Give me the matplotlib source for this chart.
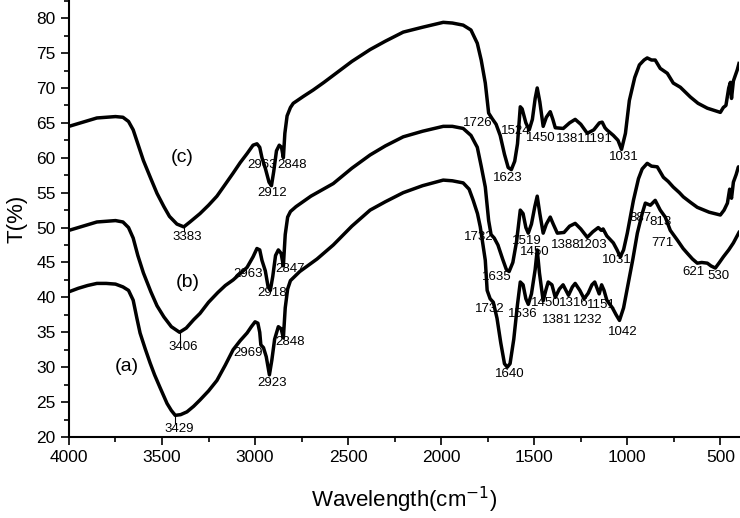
import matplotlib
matplotlib.use("Agg")
import matplotlib.pyplot as plt
from matplotlib.ticker import MultipleLocator

plt.rcParams['font.family'] = ['Liberation Sans', 'DejaVu Sans']

# spectrum (c) - top
wn_c = [4000, 3950, 3900, 3850, 3800, 3750, 3710, 3680, 3655, 3630, 3600, 3560, 3527, 3490,
        3460, 3420, 3383, 3350, 3296, 3250, 3205, 3160, 3118, 3080, 3043, 3011, 2990, 2975,
        2963, 2945, 2925, 2912, 2900, 2885, 2870, 2858, 2848, 2840, 2828, 2810, 2795, 2740,
        2688, 2630, 2580, 2480, 2382, 2300, 2204, 2100, 1989, 1940, 1882, 1840, 1806, 1785,
        1763, 1745, 1726, 1705, 1683, 1660, 1640, 1623, 1605, 1590, 1575, 1565, 1545, 1527,
        1510, 1495, 1484, 1470, 1452, 1435, 1414, 1400, 1387, 1344, 1310, 1280, 1250, 1215,
        1180, 1150, 1135, 1120, 1110, 1075, 1050, 1031, 1010, 989, 960, 935, 910, 893, 870,
        850, 823, 785, 753, 715, 661, 620, 570, 500, 484, 470, 455, 446, 440, 430, 409, 400]
t_c = [64.5, 64.9, 65.3, 65.7, 65.8, 65.9, 65.8, 65.2, 64.0, 62.0, 59.6, 57.0, 54.9, 53.0,
       51.6, 50.5, 50.1, 50.8, 52.0, 53.2, 54.5, 56.2, 57.8, 59.3, 60.6, 61.8, 62.0, 61.5,
       60.0, 58.5, 56.5, 56.0, 58.0, 61.0, 61.8, 61.5, 60.0, 63.5, 66.0, 67.2, 67.8, 68.8,
       69.7, 70.8, 71.8, 73.8, 75.5, 76.7, 78.0, 78.7, 79.4, 79.3, 79.0, 78.3, 76.4, 74.0,
       70.7, 66.4, 65.6, 64.8, 63.2, 60.5, 58.6, 58.3, 59.5, 62.0, 67.3, 67.0, 65.0, 64.0,
       65.5, 68.5, 70.0, 68.0, 64.5, 65.8, 66.6, 65.5, 64.3, 64.2, 65.0, 65.5, 64.8, 63.5,
       64.0, 65.0, 65.1, 64.3, 64.0, 63.2, 62.5, 61.2, 63.5, 68.2, 71.5, 73.3, 74.0, 74.3, 74.0,
       74.0, 72.8, 72.1, 70.7, 70.1, 68.7, 67.8, 67.1, 66.5, 67.2, 67.5, 70.0, 70.8, 68.5, 71.0, 72.6, 73.5]

# spectrum (b) - middle
wn_b = [4000, 3950, 3900, 3850, 3800, 3750, 3710, 3680, 3655, 3630, 3600, 3560, 3527, 3490,
        3450, 3406, 3370, 3330, 3296, 3250, 3200, 3160, 3118, 3080, 3043, 3011, 2990, 2975,
        2963, 2945, 2930, 2918, 2905, 2890, 2875, 2860, 2848, 2838, 2825, 2810, 2780, 2700,
        2580, 2480, 2382, 2300, 2204, 2100, 1989, 1940, 1882, 1840, 1806, 1785, 1763, 1745,
        1732, 1715, 1695, 1670, 1650, 1635, 1615, 1595, 1575, 1560, 1545, 1532, 1515, 1497,
        1484, 1470, 1452, 1435, 1414, 1398, 1376, 1340, 1310, 1280, 1250, 1215, 1185, 1156,
        1140, 1130, 1110, 1075, 1055, 1038, 1020, 1000, 967, 940, 920, 893, 870, 839, 806,
        780, 753, 720, 699, 660, 624, 560, 500, 480, 462, 450, 440, 430, 415, 403, 400]
t_b = [49.6, 50.0, 50.4, 50.8, 50.9, 51.0, 50.8, 50.0, 48.5, 46.0, 43.5, 40.8, 38.8, 37.2,
       35.8, 35.0, 35.6, 36.8, 37.7, 39.3, 40.7, 41.7, 42.5, 43.4, 44.3, 45.8, 47.0, 46.8,
       45.3, 43.8, 41.5, 41.0, 43.0, 46.0, 46.8, 46.3, 44.5, 49.0, 51.5, 52.3, 53.0, 54.5,
       56.3, 58.5, 60.4, 61.7, 63.0, 63.8, 64.5, 64.5, 64.2, 63.2, 61.5, 58.8, 55.8, 51.0,
       49.0, 48.5, 47.5, 45.5, 44.0, 43.7, 45.0, 48.0, 52.5, 52.0, 50.0, 49.2, 50.5, 53.0,
       54.5, 52.0, 49.2, 50.5, 51.5, 50.5, 49.2, 49.3, 50.2, 50.6, 49.8, 48.6, 49.4, 50.0,
       49.6, 49.8, 48.8, 47.8, 46.8, 45.8, 46.8, 49.2, 53.9, 57.0, 58.4, 59.2, 58.8, 58.7, 57.2,
       56.6, 55.8, 55.0, 54.4, 53.6, 52.9, 52.2, 51.8, 52.5, 53.5, 55.5, 54.2, 56.5, 57.6, 58.7, 58.5]

# spectrum (a) - bottom
wn_a = [4000, 3950, 3900, 3850, 3800, 3750, 3710, 3680, 3655, 3635, 3618, 3590, 3564, 3540,
        3511, 3473, 3450, 3429, 3400, 3366, 3330, 3296, 3250, 3205, 3160, 3118, 3080, 3043,
        3020, 3000, 2985, 2975, 2969, 2955, 2940, 2923, 2910, 2895, 2875, 2860, 2848, 2838,
        2825, 2810, 2760, 2667, 2580, 2480, 2382, 2300, 2204, 2100, 1989, 1940, 1882, 1850,
        1828, 1805, 1790, 1763, 1753, 1737, 1720, 1700, 1680, 1660, 1645, 1630, 1610, 1590,
        1575, 1560, 1545, 1532, 1515, 1495, 1484, 1472, 1452, 1438, 1425, 1405, 1387, 1365,
        1345, 1316, 1295, 1280, 1255, 1232, 1210, 1190, 1175, 1151, 1138, 1125, 1110, 1080,
        1060, 1042, 1020, 995, 970, 946, 920, 903, 876, 850, 823, 796, 769, 731, 700, 677,
        650, 624, 600, 570, 550, 527, 505, 484, 455, 430, 400]
t_a = [40.8, 41.3, 41.7, 42.0, 42.0, 41.9, 41.5, 41.0, 39.6, 37.0, 34.9, 32.6, 30.6, 28.9,
       27.1, 24.8, 23.8, 23.1, 23.2, 23.6, 24.4, 25.3, 26.6, 28.1, 30.3, 32.5, 33.8, 34.9,
       35.8, 36.5, 36.3, 35.0, 33.2, 32.8, 31.5, 28.9, 31.0, 34.0, 35.8, 35.5, 34.2, 38.5,
       41.2, 42.4, 43.7, 45.5, 47.5, 50.2, 52.5, 53.7, 55.0, 56.0, 56.8, 56.7, 56.4, 55.5,
       53.9, 52.0, 50.1, 45.3, 41.0, 39.8, 39.3, 37.0, 33.5, 30.5, 30.0, 30.5, 34.0, 39.0,
       42.2, 41.8, 39.8, 39.0, 40.5, 44.0, 46.8, 43.5, 39.5, 41.0, 42.2, 41.8, 40.0, 41.2,
       41.8, 40.3, 41.5, 42.0, 41.0, 39.8, 40.6, 41.8, 42.2, 40.5, 41.8, 41.0, 39.6, 38.5,
       37.5, 36.7, 38.5, 42.0, 45.5, 49.2, 52.0, 53.5, 53.2, 53.9, 52.5, 51.5, 49.6, 48.2, 47.0, 46.3,
       45.5, 44.9, 45.0, 44.9, 44.5, 44.2, 45.0, 45.8, 46.8, 47.8, 49.3]

# peak labels: (text, x, y)
labels_c = [("2963", 2962, 58.9), ("2912", 2909, 54.9), ("2848", 2801, 58.9),
            ("1726", 1806, 65.0), ("1524", 1600, 63.8), ("1450", 1466, 62.8),
            ("1381", 1306, 62.7), ("1191", 1156, 62.7), ("1031", 1016, 60.1),
            ("1623", 1640, 57.1)]
labels_b = [("2963", 3038, 43.3), ("2918", 2909, 40.6), ("2847", 2812, 44.0),
            ("1732", 1796, 48.6), ("1519", 1538, 48.1), ("1450", 1495, 46.5),
            ("1388", 1333, 47.5), ("1203", 1188, 47.5), ("1031", 1054, 45.3),
            ("1635", 1699, 42.9)]
labels_a = [("2969", 3038, 32.0), ("2923", 2909, 27.7), ("2848", 2812, 33.6),
            ("1732", 1737, 38.3), ("1536", 1562, 37.6), ("1450", 1436, 39.2),
            ("1316", 1286, 39.2), ("1151", 1140, 38.9), ("1381", 1376, 36.7),
            ("1232", 1215, 36.7), ("1042", 1022, 35.0), ("1640", 1629, 29.0),
            ("887", 932, 51.3), ("813", 820, 50.8), ("771", 812, 47.8),
            ("621", 645, 43.6), ("530", 511, 43.0)]
# OH band minima with leader lines: (text, peak x, peak y, label y)
oh_peaks = [("3383", 3383, 50.1, 48.6), ("3406", 3406, 35.0, 32.9), ("3429", 3429, 23.1, 21.1)]
series_names = [("(c)", 3392, 60.0), ("(b)", 3360, 42.2), ("(a)", 3688, 30.1)]

fig = plt.figure(figsize=(7.4, 5.18), dpi=100)
ax = fig.add_axes([0.0932, 0.1564, 0.9054, 0.8436])

for wn, t in [(wn_a, t_a), (wn_b, t_b), (wn_c, t_c)]:
    ax.plot(wn, t, color='black', lw=2.5, solid_joinstyle='round')

for txt, x, y in labels_c + labels_b + labels_a:
    ax.text(x, y, txt, fontsize=9.5, ha='center', va='center')

for txt, px, py, ly in oh_peaks:
    ax.plot([px, px], [py, ly + 0.9], color='black', lw=0.8)
    ax.text(px - 20, ly, txt, fontsize=9.5, ha='center', va='center')

for txt, x, y in series_names:
    ax.text(x, y, txt, fontsize=14, ha='center', va='center')

ax.set_xlim(4000, 400)
ax.set_ylim(20, 82.6)
ax.xaxis.set_major_locator(MultipleLocator(500))
ax.xaxis.set_minor_locator(MultipleLocator(250))
ax.yaxis.set_major_locator(MultipleLocator(5))
ax.yaxis.set_minor_locator(MultipleLocator(2.5))
ax.tick_params(which='major', direction='out', length=6, width=1.2, labelsize=12.5)
ax.tick_params(which='minor', direction='out', length=3.5, width=1.2)
ax.spines['top'].set_visible(False)
ax.spines['right'].set_visible(False)
ax.spines['left'].set_linewidth(1.5)
ax.spines['bottom'].set_linewidth(1.5)

ax.set_xlabel("Wavelength(cm$^{-1}$)", fontsize=16, labelpad=14)
ax.set_ylabel("T(%)", fontsize=16, labelpad=6)

fig.savefig("out.png", dpi=100)
